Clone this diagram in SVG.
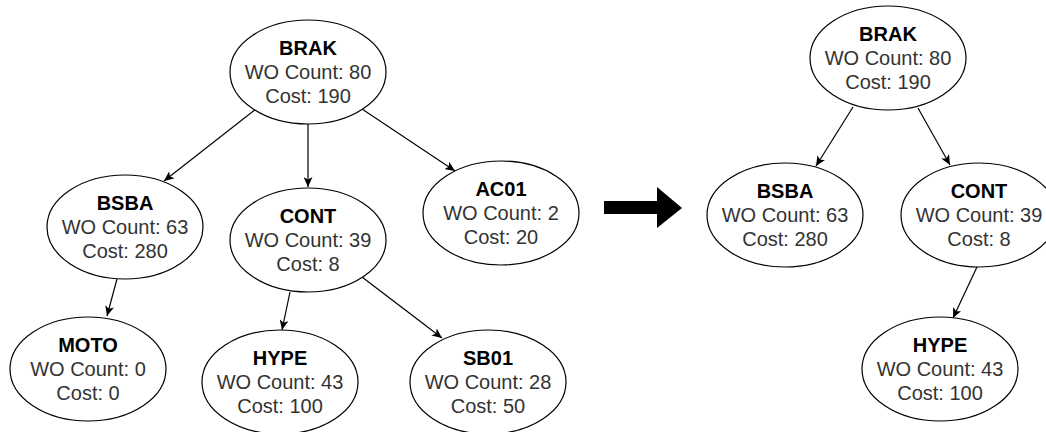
<svg xmlns="http://www.w3.org/2000/svg" width="1046" height="432" viewBox="0 0 1046 432">
<defs>
<marker id="arr" markerUnits="userSpaceOnUse" markerWidth="11" markerHeight="9" refX="10" refY="4.5" orient="auto">
<path d="M0,0 L10,4.5 L0,9 L2.5,4.5 z" fill="#000"/>
</marker>
<style>
.n ellipse{fill:#fff;stroke:#000;stroke-width:1.2}
.n text{font-family:"Liberation Sans",Arial,sans-serif;font-size:20px;text-anchor:middle;fill:#333}
.n text.t{font-weight:bold;fill:#000}
.e line{stroke:#000;stroke-width:1.2;marker-end:url(#arr)}
</style>
</defs>
<rect width="1046" height="432" fill="#fff"/>
<g class="e" id="connectors">
<line x1="256" y1="109" x2="164" y2="181"/>
<line x1="308" y1="124" x2="308" y2="187"/>
<line x1="362" y1="109" x2="455" y2="171"/>
<line x1="117" y1="279" x2="107" y2="316"/>
<line x1="290" y1="292" x2="282" y2="330"/>
<line x1="362" y1="277" x2="442" y2="338"/>
<line x1="853" y1="107" x2="816" y2="166"/>
<line x1="918" y1="108" x2="950" y2="165"/>
<line x1="977" y1="267" x2="953" y2="318"/>
</g>
<polygon id="bigarrow" points="604,201 657,201 657,187 682,208 657,228 657,214 604,214" fill="#000"/>
<g class="n" id="brak1"><ellipse cx="308" cy="72" rx="78" ry="52"/><text class="t" x="308" y="55">BRAK</text><text x="308" y="79">WO Count: 80</text><text x="308" y="103">Cost: 190</text></g>
<g class="n" id="bsba1"><ellipse cx="125" cy="227" rx="78" ry="52"/><text class="t" x="125" y="210">BSBA</text><text x="125" y="234">WO Count: 63</text><text x="125" y="258">Cost: 280</text></g>
<g class="n" id="cont1"><ellipse cx="308" cy="240" rx="78" ry="52"/><text class="t" x="308" y="223">CONT</text><text x="308" y="247">WO Count: 39</text><text x="308" y="271">Cost: 8</text></g>
<g class="n" id="ac01"><ellipse cx="501" cy="213" rx="78" ry="52"/><text class="t" x="501" y="196">AC01</text><text x="501" y="220">WO Count: 2</text><text x="501" y="244">Cost: 20</text></g>
<g class="n" id="moto"><ellipse cx="88" cy="369" rx="78" ry="52"/><text class="t" x="88" y="352">MOTO</text><text x="88" y="376">WO Count: 0</text><text x="88" y="400">Cost: 0</text></g>
<g class="n" id="hype1"><ellipse cx="280" cy="382" rx="78" ry="52"/><text class="t" x="280" y="365">HYPE</text><text x="280" y="389">WO Count: 43</text><text x="280" y="413">Cost: 100</text></g>
<g class="n" id="sb01"><ellipse cx="488" cy="382" rx="78" ry="52"/><text class="t" x="488" y="365">SB01</text><text x="488" y="389">WO Count: 28</text><text x="488" y="413">Cost: 50</text></g>
<g class="n" id="brak2"><ellipse cx="888" cy="58" rx="78" ry="52"/><text class="t" x="888" y="41">BRAK</text><text x="888" y="65">WO Count: 80</text><text x="888" y="89">Cost: 190</text></g>
<g class="n" id="bsba2"><ellipse cx="785" cy="215" rx="78" ry="52"/><text class="t" x="785" y="198">BSBA</text><text x="785" y="222">WO Count: 63</text><text x="785" y="246">Cost: 280</text></g>
<g class="n" id="cont2"><ellipse cx="979" cy="215" rx="78" ry="52"/><text class="t" x="979" y="198">CONT</text><text x="979" y="222">WO Count: 39</text><text x="979" y="246">Cost: 8</text></g>
<g class="n" id="hype2"><ellipse cx="940" cy="369" rx="78" ry="52"/><text class="t" x="940" y="352">HYPE</text><text x="940" y="376">WO Count: 43</text><text x="940" y="400">Cost: 100</text></g>
</svg>
